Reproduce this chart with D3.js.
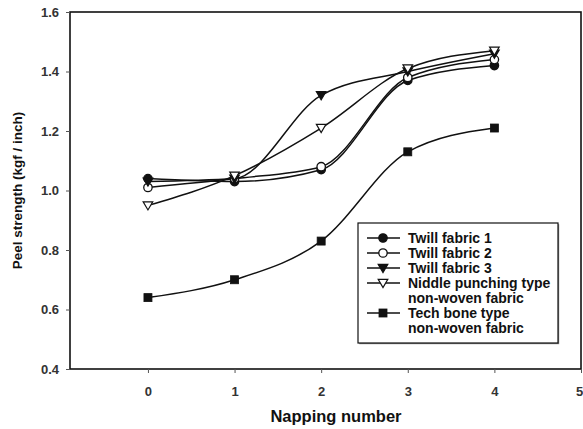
<!DOCTYPE html>
<html>
<head>
<meta charset="utf-8">
<script src="https://cdn.jsdelivr.net/npm/d3@7"></script>
<style>
  html, body { margin: 0; padding: 0; background: #fff; }
  svg { display: block; font-family: "Liberation Sans", Arial, sans-serif; }
</style>
</head>
<body>
<svg id="chart" width="583" height="429"></svg>
<script>
// Napping number on the x axis
const nappings = [0, 1, 2, 3, 4];
const xTicks = [0, 1, 2, 3, 4, 5];
const yTicks = [0.4, 0.6, 0.8, 1.0, 1.2, 1.4, 1.6];

// Peel strength (kgf / inch) per fabric
const twill1 = [1.04, 1.03, 1.07, 1.37, 1.42];
const twill2 = [1.01, 1.04, 1.08, 1.38, 1.44];
const twill3 = [1.03, 1.04, 1.32, 1.40, 1.46];
const niddle = [0.95, 1.05, 1.21, 1.41, 1.47];
const techBone = [0.64, 0.70, 0.83, 1.13, 1.21];

const seriesNames = [
  ["Twill fabric 1"],
  ["Twill fabric 2"],
  ["Twill fabric 3"],
  ["Niddle punching type", "non-woven fabric"],
  ["Tech bone type", "non-woven fabric"]
];
const seriesValues = [twill1, twill2, twill3, niddle, techBone];
const markerKinds = ["circleFilled", "circleOpen", "triDownFilled", "triDownOpen", "squareFilled"];

const svg = d3.select("#chart");
const M = { left: 70, top: 12, right: 581, bottom: 369 };

const x = d3.scaleLinear().domain([-0.9, 5]).range([M.left, M.right]);
const y = d3.scaleLinear().domain([0.4, 1.6]).range([M.bottom, M.top]);

const ink = "#111";

// Frame
svg.append("rect")
  .attr("x", M.left).attr("y", M.top)
  .attr("width", M.right - M.left).attr("height", M.bottom - M.top)
  .attr("fill", "none").attr("stroke", ink).attr("stroke-width", 1.6);

// Axes
const xAxis = svg.append("g")
  .attr("transform", `translate(0,${M.bottom})`)
  .call(d3.axisBottom(x).tickValues(xTicks).tickFormat(d3.format("d")).tickSize(4).tickPadding(14));
const yAxis = svg.append("g")
  .attr("transform", `translate(${M.left},0)`)
  .call(d3.axisLeft(y).tickValues(yTicks).tickFormat(d3.format(".1f")).tickSize(4).tickPadding(7));

[xAxis, yAxis].forEach(g => {
  g.select(".domain").remove();
  g.selectAll(".tick line").attr("stroke", "#555").attr("stroke-width", 1);
  g.selectAll(".tick text")
    .attr("fill", "#333")
    .style("font-size", "13px")
    .style("font-weight", "bold")
    .style("font-family", "'Liberation Sans', Arial, sans-serif");
});
// keep the last x label inside the page edge
xAxis.selectAll(".tick text").filter(d => d === 5).attr("x", -2);

// Axis titles
svg.append("text")
  .attr("x", 336).attr("y", 421.5)
  .attr("text-anchor", "middle")
  .style("font-size", "16.5px").style("font-weight", "bold")
  .attr("fill", ink)
  .text("Napping number");

svg.append("text")
  .attr("transform", `translate(22,${(M.top + M.bottom) / 2}) rotate(-90)`)
  .attr("text-anchor", "middle")
  .style("font-size", "13.5px").style("font-weight", "bold")
  .attr("fill", ink)
  .text("Peel strength (kgf / inch)");

// Marker drawing
function drawMarker(g, kind, cx, cy) {
  if (kind.startsWith("circle")) {
    g.append("circle").attr("cx", cx).attr("cy", cy).attr("r", 4.2)
      .attr("fill", kind === "circleFilled" ? ink : "#fff")
      .attr("stroke", ink).attr("stroke-width", 1.3);
  } else if (kind.startsWith("triDown")) {
    const s = 4.8;
    g.append("path")
      .attr("d", `M${cx - s},${cy - s * 0.75}L${cx + s},${cy - s * 0.75}L${cx},${cy + s * 0.95}Z`)
      .attr("fill", kind === "triDownFilled" ? ink : "#fff")
      .attr("stroke", ink).attr("stroke-width", 1.2);
  } else {
    const s = 4;
    g.append("rect").attr("x", cx - s).attr("y", cy - s)
      .attr("width", 2 * s).attr("height", 2 * s)
      .attr("fill", ink).attr("stroke", ink).attr("stroke-width", 0.8);
  }
}

const line = d3.line()
  .x((d, i) => x(nappings[i]))
  .y(d => y(d))
  .curve(d3.curveMonotoneX);

const plot = svg.append("g");
seriesValues.forEach(vals => {
  plot.append("path")
    .datum(vals)
    .attr("d", line)
    .attr("fill", "none")
    .attr("stroke", ink)
    .attr("stroke-width", 1.5);
});
seriesValues.forEach((vals, si) => {
  vals.forEach((v, i) => drawMarker(plot, markerKinds[si], x(nappings[i]), y(v)));
});

// Legend
const L = { x: 358, y: 223, w: 200, h: 120 };
const legend = svg.append("g");
legend.append("rect")
  .attr("x", L.x + 1.2).attr("y", L.y + 1.2).attr("width", L.w).attr("height", L.h)
  .attr("fill", "#888");
legend.append("rect")
  .attr("x", L.x).attr("y", L.y).attr("width", L.w).attr("height", L.h)
  .attr("fill", "#fff").attr("stroke", ink).attr("stroke-width", 1.2);

let row = 0;
const rowH = 15;
seriesNames.forEach((lines, si) => {
  const cy = L.y + 15 + row * rowH;
  legend.append("line")
    .attr("x1", L.x + 9).attr("x2", L.x + 42)
    .attr("y1", cy).attr("y2", cy)
    .attr("stroke", ink).attr("stroke-width", 1.5);
  drawMarker(legend, markerKinds[si], L.x + 25, cy);
  lines.forEach((t, li) => {
    legend.append("text")
      .attr("x", L.x + 50).attr("y", cy + li * rowH)
      .attr("dy", "0.36em")
      .style("font-size", "14px").style("font-weight", "bold")
      .attr("fill", ink)
      .text(t);
  });
  row += lines.length;
});
</script>
</body>
</html>
